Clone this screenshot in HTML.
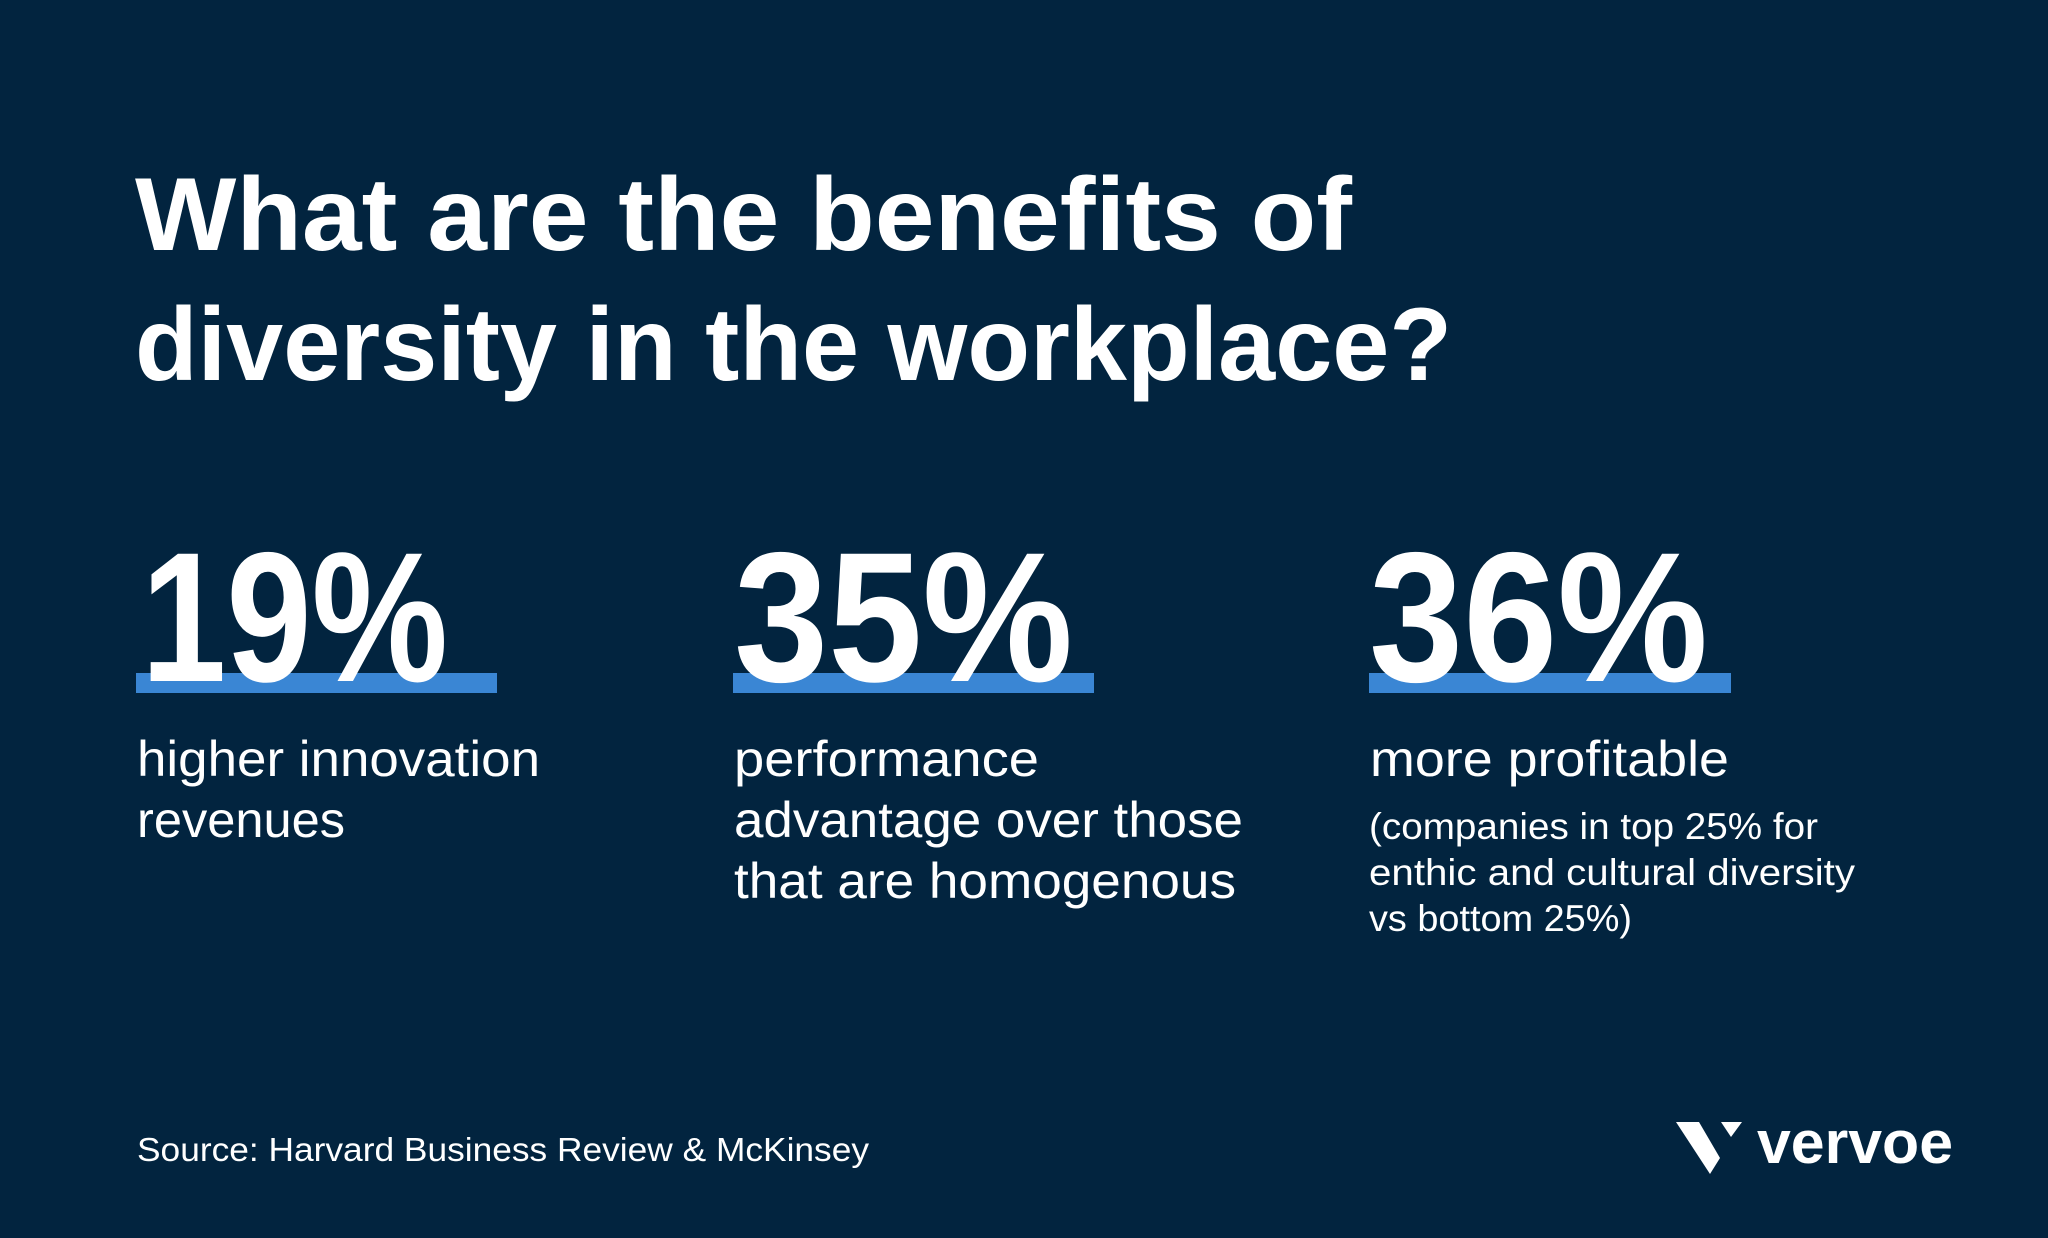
<!DOCTYPE html>
<html><head><meta charset="utf-8"><style>
html,body{margin:0;padding:0;background:#02243f;}
svg{display:block;}
text{font-family:"Liberation Sans",sans-serif;fill:#fff;}
</style></head><body>
<svg width="2048" height="1238" viewBox="0 0 2048 1238">
<rect x="0" y="0" width="2048" height="1238" fill="#02243f"/>
<g font-weight="bold" font-size="104">
<text x="135" y="250" textLength="1217" lengthAdjust="spacingAndGlyphs">What are the benefits of</text>
<text x="135" y="380" textLength="1317" lengthAdjust="spacingAndGlyphs">diversity in the workplace?</text>
</g>
<g>
<rect x="136" y="673" width="361" height="20" fill="#3a86d4"/>
<text x="141" y="681" font-size="185" font-weight="bold" textLength="307" lengthAdjust="spacingAndGlyphs">19%</text>
<text x="137" y="776" font-size="50" textLength="403" lengthAdjust="spacingAndGlyphs">higher innovation</text>
<text x="137" y="837" font-size="50" textLength="208" lengthAdjust="spacingAndGlyphs">revenues</text>
</g>
<g>
<rect x="733" y="673" width="361" height="20" fill="#3a86d4"/>
<text x="734" y="681" font-size="185" font-weight="bold" textLength="339" lengthAdjust="spacingAndGlyphs">35%</text>
<text x="734" y="776" font-size="50" textLength="305" lengthAdjust="spacingAndGlyphs">performance</text>
<text x="734" y="837" font-size="50" textLength="509" lengthAdjust="spacingAndGlyphs">advantage over those</text>
<text x="734" y="898" font-size="50" textLength="502" lengthAdjust="spacingAndGlyphs">that are homogenous</text>
</g>
<g>
<rect x="1369" y="673" width="362" height="20" fill="#3a86d4"/>
<text x="1369" y="681" font-size="185" font-weight="bold" textLength="339" lengthAdjust="spacingAndGlyphs">36%</text>
<text x="1370" y="776" font-size="50" textLength="359" lengthAdjust="spacingAndGlyphs">more profitable</text>
<text x="1369" y="839" font-size="37" textLength="449" lengthAdjust="spacingAndGlyphs">(companies in top 25% for</text>
<text x="1369" y="885" font-size="37" textLength="486" lengthAdjust="spacingAndGlyphs">enthic and cultural diversity</text>
<text x="1369" y="931" font-size="37" textLength="263" lengthAdjust="spacingAndGlyphs">vs bottom 25%)</text>
</g>
<text x="137" y="1161" font-size="33" textLength="732" lengthAdjust="spacingAndGlyphs">Source: Harvard Business Review &amp; McKinsey</text>
<g>
<polygon points="1676,1122 1699,1122 1720,1158 1710,1174" fill="#fff"/>
<polygon points="1721,1122 1742,1122 1731,1137" fill="#fff"/>
<text x="1757" y="1163" font-size="60" font-weight="bold" textLength="196" lengthAdjust="spacingAndGlyphs">vervoe</text>
</g>
</svg>
</body></html>
